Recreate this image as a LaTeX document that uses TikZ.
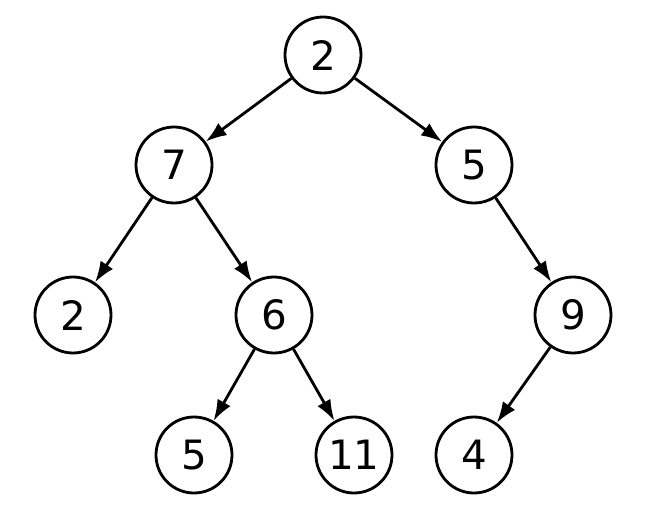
\documentclass[tikz,border=0pt]{standalone}
\usepackage{fontspec}
\setmainfont{DejaVu Sans}
\usetikzlibrary{arrows.meta}

\begin{document}
\begin{tikzpicture}[> = {Latex[length=4.2mm, width=3mm]}, font = \fontsize{23}{27}\selectfont,
	vertex/.style = {circle, draw, line width = 1.6pt, minimum size = 1.52 cm, inner sep = 0pt},
	link/.style = {->, line width = 1.6pt}]

	% Bounding box
	
	\useasboundingbox (0, 0) rectangle (13.36, 10.32);
	
	% Draw vertices
	
	\node [vertex] (root) at (6.46, 9.22) {2};
	\node [vertex] (l) at (3.48, 7.02) {7};
	\node [vertex] (r) at (9.48, 7.02) {5};
	\node [vertex] (ll) at (1.46, 4.02) {2};
	\node [vertex] (lr) at (5.48, 4.02) {6};
	\node [vertex] (rr) at (11.46, 4.02) {9};
	\node [vertex] (lrl) at (3.88, 1.22) {5};
	\node [vertex] (lrr) at (7.08, 1.22) {11};
	\node [vertex] (rrl) at (9.48, 1.22) {4};
	
	% Draw edges
	
	\draw [link] (root) -- (l);
	\draw [link] (root) -- (r);
	\draw [link] (l) -- (ll);
	\draw [link] (l) -- (lr);
	\draw [link] (r) -- (rr);
	\draw [link] (lr) -- (lrl);
	\draw [link] (lr) -- (lrr);
	\draw [link] (rr) -- (rrl);
	
\end{tikzpicture}
\end{document}
